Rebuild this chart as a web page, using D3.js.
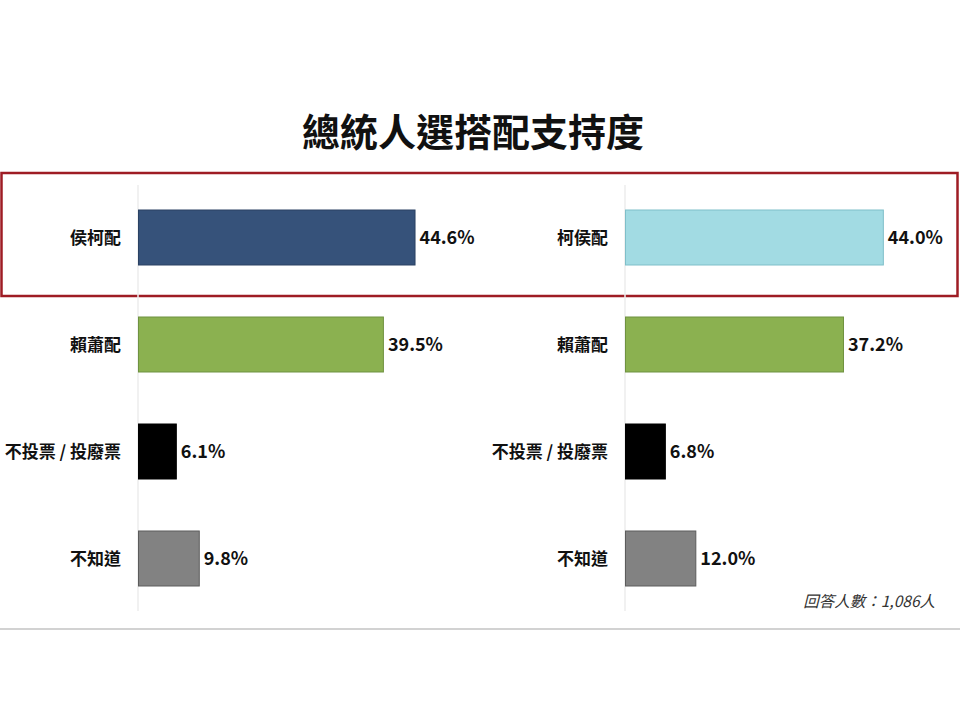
<!DOCTYPE html>
<html>
<head>
<meta charset="utf-8">
<script src="https://cdn.jsdelivr.net/npm/d3@7"></script>
<style>
  body { margin: 0; background: #fff; }
  svg { display: block; }
  text { font-family: "Noto Sans CJK TC", "Noto Sans", sans-serif; }
</style>
</head>
<body>
<svg width="960" height="720"></svg>
<script>
// data
var title = '總統人選搭配支持度';
var leftCategories = ['侯柯配', '賴蕭配', '不投票 / 投廢票', '不知道'];
var leftValues = [44.6, 39.5, 6.1, 9.8];
var rightCategories = ['柯侯配', '賴蕭配', '不投票 / 投廢票', '不知道'];
var rightValues = [44.0, 37.2, 6.8, 12.0];
var note = '回答人數：1,086人';

// colours per row
var leftFill = ['#36527a', '#8bb150', '#000000', '#828282'];
var leftStroke = ['#2a4163', '#6f9240', '#000000', '#5c5c5c'];
var rightFill = ['#a2dbe3', '#8bb150', '#000000', '#828282'];
var rightStroke = ['#7fbfc9', '#6f9240', '#000000', '#5c5c5c'];

var svg = d3.select('svg');

svg.append('rect').attr('width', 960).attr('height', 720).attr('fill', '#fff');

// title
svg.append('text')
    .attr('x', 473).attr('y', 146)
    .attr('text-anchor', 'middle')
    .attr('font-size', 38).attr('font-weight', 700)
    .attr('fill', '#111')
    .text(title);

// highlight box round the first row
svg.append('rect')
    .attr('x', 1.5).attr('y', 173).attr('width', 956).attr('height', 123)
    .attr('fill', 'none').attr('stroke', '#9e1c24').attr('stroke-width', 2.5);

var y = d3.scaleBand().domain(d3.range(4)).range([184, 612])
    .paddingInner(0.486).paddingOuter(0.243);

function panel(x0, pxPerPct, cats, vals, fills, strokes) {
    var x = d3.scaleLinear().domain([0, 50]).range([x0, x0 + pxPerPct * 50]);
    var g = svg.append('g');

    // baseline
    g.append('line')
        .attr('x1', x(0)).attr('x2', x(0))
        .attr('y1', 185).attr('y2', 611)
        .attr('stroke', '#ececec').attr('stroke-width', 1.5);

    g.selectAll('rect.bar').data(vals).enter().append('rect')
        .attr('class', 'bar')
        .attr('x', x(0) + 0.5)
        .attr('y', function (d, i) { return y(i); })
        .attr('width', function (d) { return x(d) - x(0); })
        .attr('height', y.bandwidth())
        .attr('fill', function (d, i) { return fills[i]; })
        .attr('stroke', function (d, i) { return strokes[i]; })
        .attr('stroke-width', 1);

    g.selectAll('text.cat').data(cats).enter().append('text')
        .attr('class', 'cat')
        .attr('x', x(0) - 17)
        .attr('y', function (d, i) { return y(i) + y.bandwidth() / 2; })
        .attr('dy', '0.36em')
        .attr('text-anchor', 'end')
        .attr('font-size', 17).attr('font-weight', 700)
        .attr('fill', '#111')
        .text(function (d) { return d; });

    g.selectAll('text.val').data(vals).enter().append('text')
        .attr('class', 'val')
        .attr('x', function (d) { return x(d) + 5; })
        .attr('y', function (d, i) { return y(i) + y.bandwidth() / 2; })
        .attr('dy', '0.36em')
        .attr('font-size', 18).attr('font-weight', 700)
        .attr('fill', '#111')
        .text(function (d) { return d.toFixed(1) + '%'; });
}

panel(138, 6.2, leftCategories, leftValues, leftFill, leftStroke);
panel(625, 5.86, rightCategories, rightValues, rightFill, rightStroke);

// sample size note
svg.append('text')
    .attr('x', 935).attr('y', 607)
    .attr('text-anchor', 'end')
    .attr('font-size', 15.5).attr('font-style', 'italic')
    .attr('fill', '#333')
    .text(note);

// bottom rule
svg.append('line')
    .attr('x1', 0).attr('x2', 960).attr('y1', 629).attr('y2', 629)
    .attr('stroke', '#d2d2d2').attr('stroke-width', 2);
</script>
</body>
</html>
